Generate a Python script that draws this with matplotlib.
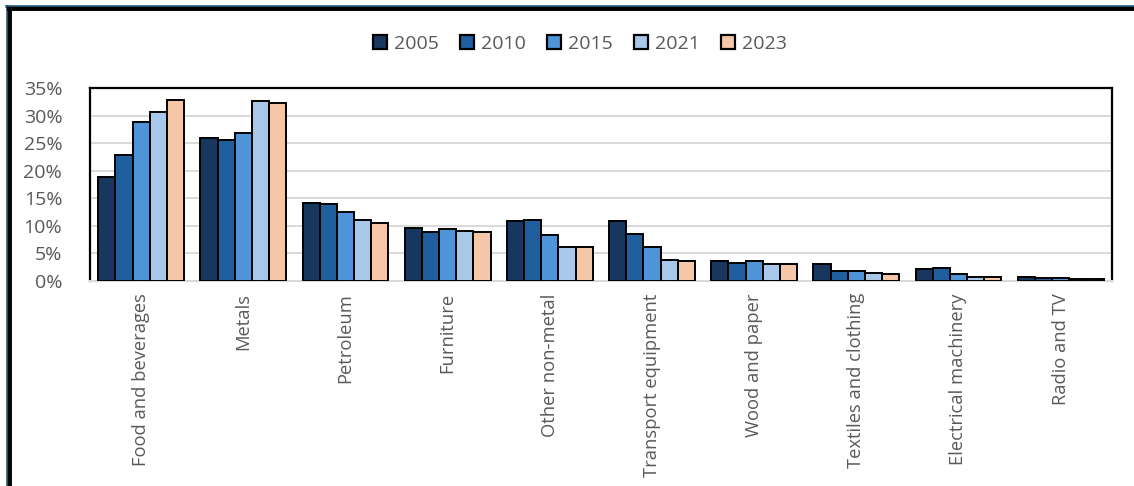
import numpy as np
import matplotlib.pyplot as plt
from matplotlib.lines import Line2D
from matplotlib.ticker import FuncFormatter

plt.rcParams['font.family'] = ['Open Sans', 'DejaVu Sans']

categories = ['Food and beverages', 'Metals', 'Petroleum', 'Furniture', 'Other non-metal',
              'Transport equipment', 'Wood and paper', 'Textiles and clothing',
              'Electrical machinery', 'Radio and TV']
years = ['2005', '2010', '2015', '2021', '2023']

v2005 = [18.8, 26.0, 14.1, 9.5, 10.9, 10.9, 3.5, 3.1, 2.1, 0.6]
v2010 = [22.8, 25.6, 13.9, 8.9, 11.1, 8.5, 3.2, 1.8, 2.3, 0.4]
v2015 = [28.8, 26.8, 12.5, 9.3, 8.3, 6.1, 3.6, 1.8, 1.3, 0.4]
v2021 = [30.6, 32.6, 11.1, 9.1, 6.1, 3.8, 3.0, 1.4, 0.6, 0.25]
v2023 = [32.8, 32.2, 10.5, 8.9, 6.1, 3.5, 3.0, 1.2, 0.6, 0.25]
series = [v2005, v2010, v2015, v2021, v2023]

colors = ['#17375e', '#1f5f9e', '#4f94d8', '#a8c8ea', '#f5c6a8']

fig = plt.figure(figsize=(11.34, 4.86), dpi=100)
ax = fig.add_axes([90 / 1134, 1 - 280.7 / 486, 1021.7 / 1134, 192.7 / 486])

x = np.arange(len(categories))
w = 0.168
for i, (vals, c) in enumerate(zip(series, colors)):
    ax.bar(x + (i - 2) * w, vals, w, color=c, edgecolor='black', linewidth=1.4,
           label=years[i], zorder=3)

ax.set_xlim(-0.5, len(categories) - 0.5)
ax.set_ylim(0, 35)
ax.set_yticks(range(0, 36, 5))
ax.yaxis.set_major_formatter(FuncFormatter(lambda v, p: f'{int(v)}%'))
ax.grid(axis='y', color='#d9d9d9', linewidth=1.4, zorder=0)
ax.set_xticks(x)
ax.set_xticklabels(categories, rotation=90, color='#595959', fontsize=13.2)
ax.tick_params(axis='y', length=0, labelsize=14, labelcolor='#595959', pad=20)
ax.tick_params(axis='x', length=0, pad=9)
for s in ['top', 'left', 'right']:
    ax.spines[s].set_color('black')
    ax.spines[s].set_linewidth(1.6)
ax.spines['bottom'].set_color('#d9d9d9')
ax.spines['bottom'].set_linewidth(1.5)

leg = fig.legend(loc='center', bbox_to_anchor=(580 / 1134, 1 - 44 / 486), ncol=5, frameon=False,
                 fontsize=14, labelcolor='#595959', handlelength=0.72, handleheight=0.72,
                 handletextpad=0.35, columnspacing=1.1)
for h in leg.legend_handles:
    h.set_linewidth(1.6)

# outer frame (left and top edges only visible)
fig.add_artist(Line2D([7 / 1134, 7 / 1134], [0, 1 - 6 / 486], transform=fig.transFigure,
                      color='#1c4f6e', linewidth=1.8))
fig.add_artist(Line2D([6 / 1134, 1], [1 - 6 / 486, 1 - 6 / 486], transform=fig.transFigure,
                      color='#1c4f6e', linewidth=1.8))
fig.add_artist(Line2D([10 / 1134, 10 / 1134], [0, 1 - 9.5 / 486], transform=fig.transFigure,
                      color='black', linewidth=2.8))
fig.add_artist(Line2D([9 / 1134, 1], [1 - 9.5 / 486, 1 - 9.5 / 486], transform=fig.transFigure,
                      color='black', linewidth=2.8))

fig.savefig('out.png', dpi=100)
